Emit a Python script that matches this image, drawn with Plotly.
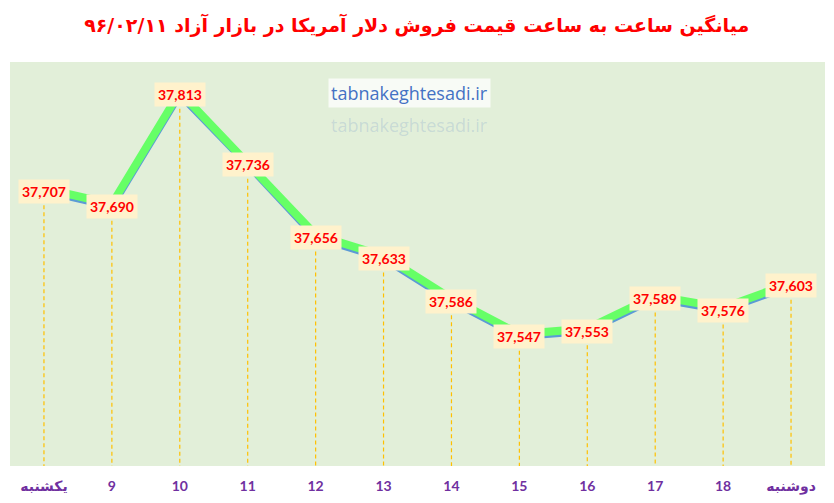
import plotly.graph_objects as go

# hourly average sell price of USD, 1396/02/11
hours = ['یکشنبه', '9', '10', '11', '12', '13', '14', '15', '16', '17', '18', 'دوشنبه']
prices = [37707, 37690, 37813, 37736, 37656, 37633, 37586, 37547, 37553, 37589, 37576, 37603]

TITLE = 'میانگین ساعت به ساعت قیمت فروش دلار آمریکا در بازار آزاد ۹۶/۰۲/۱۱'
WATERMARK = 'tabnakeghtesadi.ir'

Y_MIN, Y_MAX = 37405, 37849
SHIFT = 3  # green line sits a little above the blue one

fig = go.Figure()

# dashed drop lines from each point to the bottom
for h, p in zip(hours, prices):
    fig.add_trace(go.Scatter(x=[h, h], y=[p, Y_MIN], mode='lines',
                             line=dict(color='#FFC000', width=1.2, dash='4px,3px'),
                             hoverinfo='skip', showlegend=False))

fig.add_trace(go.Scatter(x=hours, y=prices, mode='lines',
                         line=dict(color='#5B9BD5', width=7),
                         showlegend=False))
fig.add_trace(go.Scatter(x=hours, y=prices, mode='lines', yaxis='y2',
                         line=dict(color='#66FF66', width=8),
                         showlegend=False))

# annotations on a category axis take the category index
for i, p in enumerate(prices):
    fig.add_annotation(x=i, y=p, text=f'<b>{p:,}</b>', showarrow=False,
                       font=dict(family='Lato, Open Sans', size=14, color='#FF0000'),
                       bgcolor='#FFF2CC', borderpad=3)

fig.add_annotation(xref='paper', yref='paper', x=0.49, y=0.923, yanchor='middle',
                   text=WATERMARK, showarrow=False,
                   bgcolor='rgba(255,255,255,0.75)', borderpad=2,
                   font=dict(family='Open Sans', size=18, color='#4472C4'))
fig.add_annotation(xref='paper', yref='paper', x=0.49, y=0.845, yanchor='middle',
                   text=WATERMARK, showarrow=False,
                   font=dict(family='Open Sans', size=18, color='rgba(68,114,196,0.18)'))

fig.update_layout(
    width=834, height=503,
    margin=dict(l=2, r=17, t=54, b=45),
    paper_bgcolor='white',
    plot_bgcolor='#E2EFD9',
    title=dict(text=f'<b>{TITLE}</b>', x=0.49, xanchor='center', y=0.966, yanchor='middle',
               font=dict(family='DejaVu Sans', size=19, color='#FF0000')),
    xaxis=dict(type='category', categoryorder='array', categoryarray=hours,
               range=[-0.5, len(hours) - 0.5],
               showgrid=False, zeroline=False, ticks='', showline=False,
               ticklabelstandoff=10,
               tickfont=dict(family='Lato, DejaVu Sans', size=14, color='#7030A0'),
               tickprefix='<b>', ticksuffix='</b>'),
    yaxis=dict(range=[Y_MIN, Y_MAX], visible=False, showgrid=False),
    yaxis2=dict(range=[Y_MIN - SHIFT, Y_MAX - SHIFT], visible=False, showgrid=False,
                overlaying='y'),
)

fig.write_html('out.html')
